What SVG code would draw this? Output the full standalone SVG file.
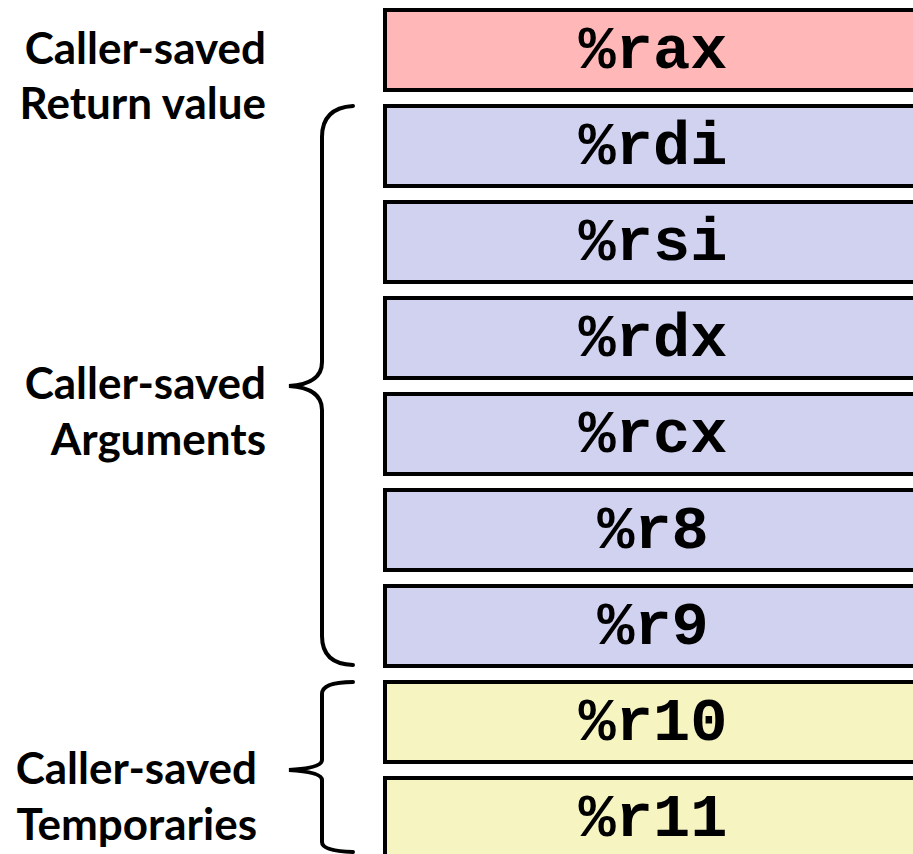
<svg xmlns="http://www.w3.org/2000/svg" width="913" height="854" viewBox="0 0 913 854">
<style>
.reg{stroke:#000;stroke-width:4}
.ret{fill:#ffb7b7}
.arg{fill:#d1d1f0}
.tmp{fill:#f6f4c1}
.rt{font-family:"Liberation Mono","Courier New",monospace;font-weight:bold;font-size:62px;text-anchor:middle;fill:#000}
.lb{font-family:Lato,"Liberation Sans",sans-serif;font-weight:bold;font-size:44px;text-anchor:end;fill:#000}
.br{fill:none;stroke:#000;stroke-width:4;stroke-linecap:round}
</style>
<rect width="913" height="854" fill="#fff"/>
<g id="rax"><rect class="reg ret" x="385" y="10" width="540" height="80"/><text class="rt" x="653" y="68">%rax</text></g>
<g id="rdi"><rect class="reg arg" x="385" y="106" width="540" height="80"/><text class="rt" x="653" y="164">%rdi</text></g>
<g id="rsi"><rect class="reg arg" x="385" y="202" width="540" height="80"/><text class="rt" x="653" y="260">%rsi</text></g>
<g id="rdx"><rect class="reg arg" x="385" y="298" width="540" height="80"/><text class="rt" x="653" y="356">%rdx</text></g>
<g id="rcx"><rect class="reg arg" x="385" y="394" width="540" height="80"/><text class="rt" x="653" y="452">%rcx</text></g>
<g id="r8"><rect class="reg arg" x="385" y="490" width="540" height="80"/><text class="rt" x="653" y="548">%r8</text></g>
<g id="r9"><rect class="reg arg" x="385" y="586" width="540" height="80"/><text class="rt" x="653" y="644">%r9</text></g>
<g id="r10"><rect class="reg tmp" x="385" y="682" width="540" height="80"/><text class="rt" x="653" y="740">%r10</text></g>
<g id="r11"><rect class="reg tmp" x="385" y="778" width="540" height="80"/><text class="rt" x="653" y="836">%r11</text></g>
<g id="label-return"><text class="lb" x="266" y="64">Caller-saved</text><text class="lb" x="266" y="119">Return value</text></g>
<g id="label-args"><text class="lb" x="266" y="399">Caller-saved</text><text class="lb" x="266" y="455">Arguments</text></g>
<g id="label-temps"><text class="lb" x="257" y="784">Caller-saved</text><text class="lb" x="257" y="840">Temporaries</text></g>
<g id="connectors">
<path class="br" d="M353,106 Q322,108 322,137 L322,362 Q322,384 289,386 Q322,388 322,410 L322,636 Q322,664 353,665"/>
<path class="br" d="M353,682 Q322,682 322,694 L322,760 Q322,768 289,770 Q322,772 322,780 L322,842 Q322,851 353,852"/>
</g>
</svg>
